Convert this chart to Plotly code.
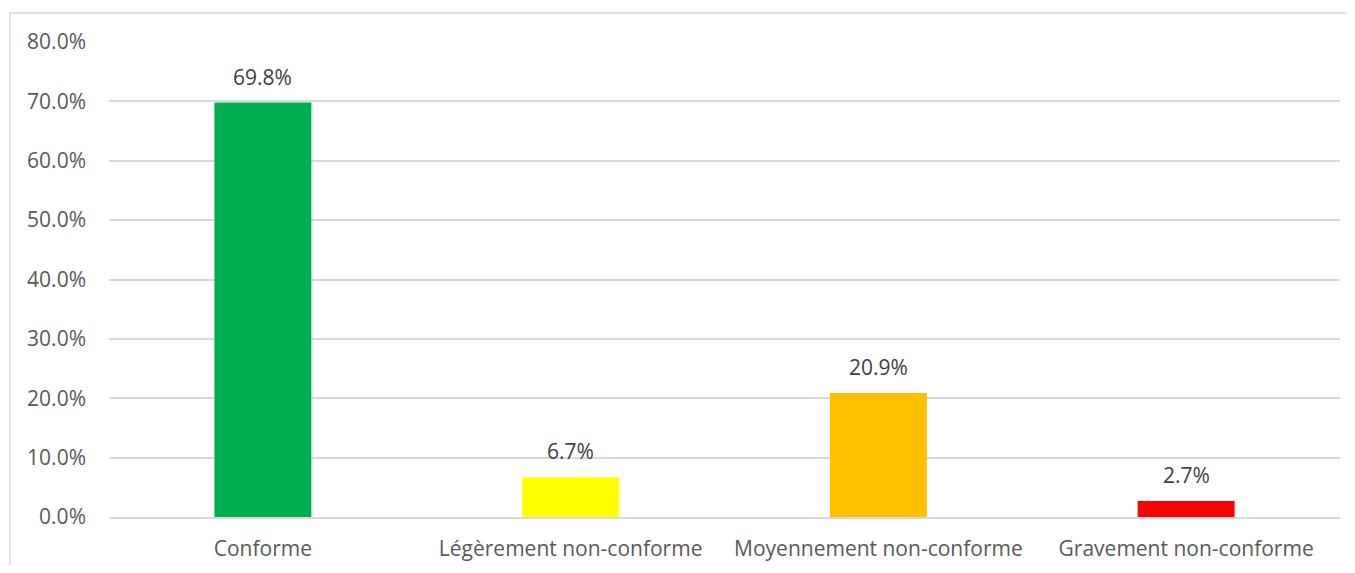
import plotly.graph_objects as go

categories = ["Conforme", "Légèrement non-conforme", "Moyennement non-conforme", "Gravement non-conforme"]
values = [0.698, 0.067, 0.209, 0.027]
colors = ["#00B050", "#FFFF00", "#FFC000", "#FF0000"]
tick_vals = [0, 0.1, 0.2, 0.3, 0.4, 0.5, 0.6, 0.7, 0.8]

FONT = "Open Sans"
FS = 21
fig = go.Figure()
fig.add_trace(go.Bar(x=categories, y=values, marker=dict(color=colors, line=dict(width=0)),
                     hoverinfo="skip"))

for c, v in zip(categories, values):
    fig.add_annotation(x=c, y=v, text=f"{v*100:.1f}%", showarrow=False, yanchor="bottom",
                       yshift=10, font=dict(family=FONT, size=FS, color="#404040"))

# page body has an 8px margin; figure origin sits at (8, 8)
W, H = 1339, 557
L, R, T, B = 101, 7, 34, 48
pw, ph = W - L - R, H - T - B
fig.add_shape(type="rect", xref="paper", yref="paper",
              x0=(2 - L) / pw, x1=(W + 20 - L) / pw,
              y0=-(B + 20) / ph, y1=(H - B - 5) / ph,
              line=dict(color="#D9D9D9", width=1.5), fillcolor="rgba(0,0,0,0)", layer="below")

fig.update_layout(
    width=W, height=H,
    margin=dict(l=L, r=R, t=T, b=B, autoexpand=False),
    plot_bgcolor="white", paper_bgcolor="white",
    bargap=0.685,
    showlegend=False,
    font=dict(family=FONT, size=FS, color="#595959"),
    xaxis=dict(showgrid=False, showline=True, linecolor="#D9D9D9", linewidth=1.5, automargin=False,
               ticks="", ticklabelstandoff=12, tickfont=dict(size=FS, color="#595959")),
    yaxis=dict(range=[0, 0.8], tickvals=tick_vals, tickformat=".1%", showgrid=True, automargin=False,
               gridcolor="#D9D9D9", gridwidth=1.5, zeroline=False, showline=False,
               ticks="", ticklabelstandoff=22, tickfont=dict(size=FS, color="#595959")),
)

fig.write_html("out.html")
